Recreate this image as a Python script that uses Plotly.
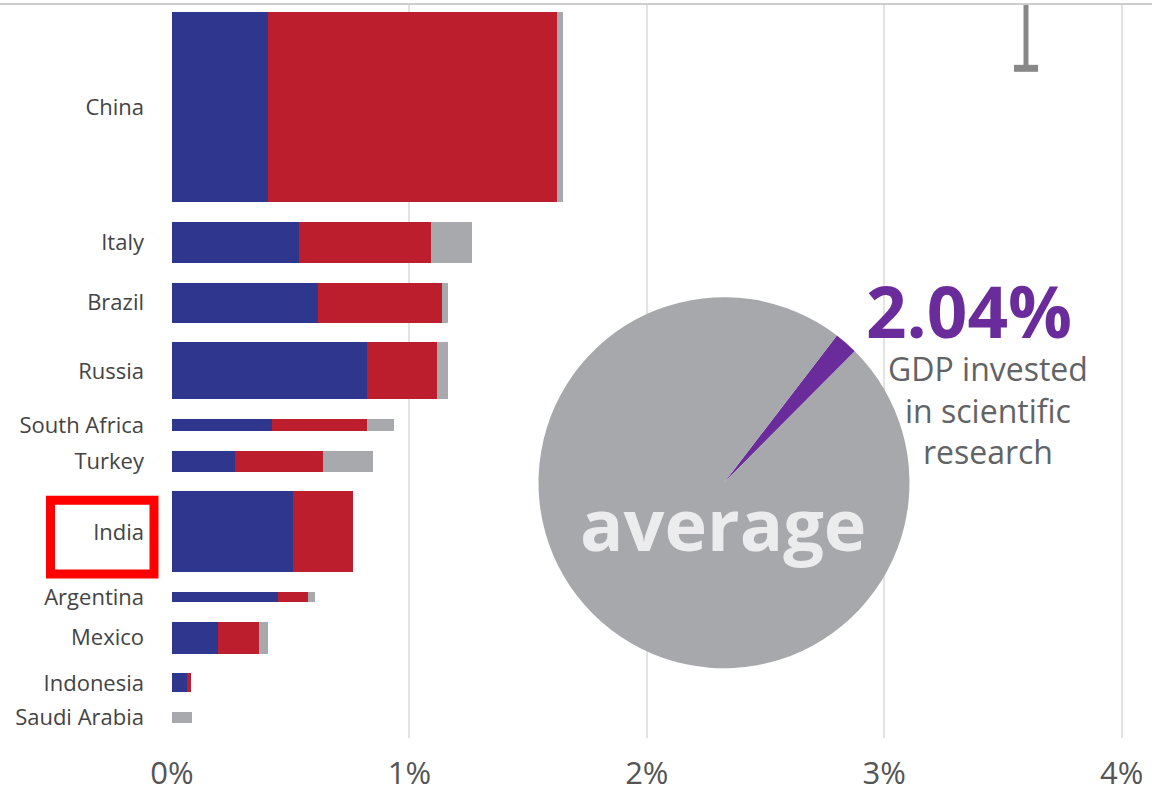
import plotly.graph_objects as go

# ---------------- data ----------------
countries = ["China", "Italy", "Brazil", "Russia", "South Africa", "Turkey",
             "India", "Argentina", "Mexico", "Indonesia", "Saudi Arabia"]
# segment lengths (% of GDP)
blue_vals = [0.404, 0.535, 0.615, 0.820, 0.420, 0.265, 0.510, 0.446, 0.194, 0.063, 0.0]
red_vals = [1.216, 0.555, 0.522, 0.296, 0.400, 0.371, 0.252, 0.127, 0.172, 0.017, 0.0]
gray_vals = [0.025, 0.173, 0.025, 0.046, 0.115, 0.210, 0.0, 0.029, 0.038, 0.0, 0.084]
# relative bar thickness (encodes country weight)
bar_thickness = [191, 41, 40, 57, 12, 21, 81, 10, 32, 19, 11]
x_ticks = [0, 1, 2, 3, 4]
x_tick_labels = ["0%", "1%", "2%", "3%", "4%"]
average_share = [2.04, 97.96]
average_label = "2.04%"

# ---------------- layout helpers ----------------
W, H = 1152, 793
ML, MR, MT, MB = 172, 0, 5, 53
PW, PH = W - ML - MR, H - MT - MB
PX_PER_PCT = 237.4
GAP = 19.8
TOP_PAD = 7

centers = []
pos = TOP_PAD
for t in bar_thickness:
    centers.append(pos + t / 2)
    pos += t + GAP


def px(x):
    return (x - ML) / PW


def py(y):
    return (H - MB - y) / PH


BLUE = "#2E368E"
RED = "#BC1E2D"
GRAY = "#A7A9AC"
PURPLE = "#6A2C9A"

fig = go.Figure()
for vals, col, name in [(blue_vals, BLUE, "blue"), (red_vals, RED, "red"), (gray_vals, GRAY, "gray")]:
    fig.add_trace(go.Bar(
        y=centers, x=vals, width=bar_thickness, orientation="h",
        marker=dict(color=col, line=dict(width=0)), name=name, showlegend=False,
        hoverinfo="skip"))

# average pie
fig.add_trace(go.Pie(
    values=average_share, marker=dict(colors=[PURPLE, "#A6A8AB"], line=dict(width=0)),
    sort=False, direction="clockwise", rotation=37.5, textinfo="none",
    hoverinfo="skip", showlegend=False,
    domain=dict(x=[px(538), px(910)], y=[py(670), py(298)])))

fig.update_layout(
    width=W, height=H, barmode="stack", bargap=0,
    margin=dict(l=ML, r=MR, t=MT, b=MB),
    paper_bgcolor="white", plot_bgcolor="white",
    font=dict(family="Open Sans", color="#3C3C3C"),
    xaxis=dict(range=[0, PW / PX_PER_PCT], tickvals=x_ticks, ticktext=x_tick_labels,
               showgrid=True, gridcolor="#E3E3E3", gridwidth=2, zeroline=False,
               showline=False, ticks="", ticklabelstandoff=14,
               tickfont=dict(size=31, color="#555555"), fixedrange=True),
    yaxis=dict(range=[PH, 0], tickvals=centers, ticktext=countries,
               showgrid=False, zeroline=False, showline=False, ticks="",
               ticklabelstandoff=27, tickfont=dict(size=22, color="#444444"),
               fixedrange=True),
)

annotations = [
    dict(text=f"<b>{average_label}</b>", x=px(969), y=py(311), font=dict(size=71, color=PURPLE)),
    dict(text="GDP invested<br>in scientific<br>research", x=px(988), y=py(411),
         font=dict(size=32, color="#626365")),
    dict(text="<b>average</b>", x=px(723), y=py(524), font=dict(size=72, color="#ECECEF")),
]
for a in annotations:
    fig.add_annotation(xref="paper", yref="paper", showarrow=False,
                       xanchor="center", yanchor="middle", **a)

shapes = [
    # top border line
    dict(type="line", x0=px(0), x1=px(W), y0=py(4), y1=py(4), line=dict(color="#BDBDBD", width=1.5)),
    # T-shaped marker at top right
    dict(type="rect", x0=px(1023.5), x1=px(1028.5), y0=py(5), y1=py(68),
         fillcolor="#888888", line=dict(width=0)),
    dict(type="rect", x0=px(1014), x1=px(1038), y0=py(65), y1=py(72),
         fillcolor="#888888", line=dict(width=0)),
    # red highlight box around India
    dict(type="rect", x0=px(50.5), x1=px(154), y0=py(501.5), y1=py(575.5),
         line=dict(color="#FF0000", width=9), fillcolor="rgba(0,0,0,0)"),
]
for s in shapes:
    fig.add_shape(xref="paper", yref="paper", layer="above", **s)

fig.write_html("out.html", config={"displayModeBar": False},
               post_script="document.body.style.margin='0px';")
